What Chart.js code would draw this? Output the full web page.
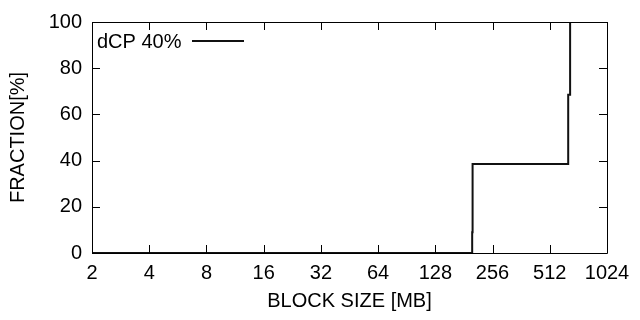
<!DOCTYPE html>
<html>
<head>
<meta charset="utf-8">
<script src="https://cdn.jsdelivr.net/npm/chart.js@4/dist/chart.umd.min.js"></script>
<style>
  html, body { margin: 0; padding: 0; background: #fff; }
  #wrap { width: 640px; height: 320px; }
</style>
</head>
<body>
<div id="wrap"><canvas id="cdfChart" width="640" height="320"></canvas></div>
<script>
// Data (CDF of block sizes)
const seriesLabel = 'dCP 40%';
const blockSizes = [2, 200, 201, 640, 655, 1024];
const fractions = [0, 9, 38.5, 68.5, 100, 100];

const xTicks = [2, 4, 8, 16, 32, 64, 128, 256, 512, 1024];
const yTicks = [0, 20, 40, 60, 80, 100];

const FONT = 'Liberation Sans, Arial, Helvetica, sans-serif';

// gnuplot-like frame with inward ticks on all four sides
const framePlugin = {
  id: 'frame',
  afterDatasetsDraw(chart) {
    const {ctx, chartArea: a, scales} = chart;
    const len = 8;
    ctx.save();
    ctx.strokeStyle = '#000';
    ctx.lineWidth = 1;
    ctx.beginPath();
    ctx.rect(a.left + 0.5, a.top + 0.5, a.right - a.left, a.bottom - a.top);
    xTicks.forEach(v => {
      const px = Math.round(scales.x.getPixelForValue(v)) + 0.5;
      ctx.moveTo(px, a.bottom); ctx.lineTo(px, a.bottom - len);
      ctx.moveTo(px, a.top); ctx.lineTo(px, a.top + len);
    });
    yTicks.forEach(v => {
      const py = Math.round(scales.y.getPixelForValue(v)) + 0.5;
      ctx.moveTo(a.left, py); ctx.lineTo(a.left + len, py);
      ctx.moveTo(a.right, py); ctx.lineTo(a.right - len, py);
    });
    ctx.stroke();
    ctx.restore();
  }
};

// key in the top-left corner: text, then line sample
const keyPlugin = {
  id: 'key',
  afterDraw(chart) {
    const {ctx, chartArea: a} = chart;
    const ds = chart.data.datasets[0];
    ctx.save();
    ctx.font = `20px ${FONT}`;
    ctx.fillStyle = '#000';
    ctx.textBaseline = 'middle';
    ctx.fillText(ds.label, a.left + 5, a.top + 20);
    ctx.strokeStyle = ds.borderColor;
    ctx.lineWidth = ds.borderWidth;
    ctx.beginPath();
    ctx.moveTo(a.left + 100, a.top + 19);
    ctx.lineTo(a.left + 152, a.top + 19);
    ctx.stroke();
    ctx.restore();
  }
};

new Chart(document.getElementById('cdfChart'), {
  type: 'line',
  data: {
    datasets: [{
      label: seriesLabel,
      data: blockSizes.map((x, i) => ({x, y: fractions[i]})),
      borderColor: '#111',
      borderWidth: 2,
      stepped: 'before',
      pointRadius: 0,
      fill: false,
    }],
  },
  options: {
    responsive: false,
    animation: false,
    layout: {padding: {top: 22, right: 33, bottom: 5, left: 6}},
    plugins: {legend: {display: false}, tooltip: {enabled: false}},
    scales: {
      x: {
        type: 'logarithmic',
        min: 2,
        max: 1024,
        grid: {display: false, drawTicks: false},
        border: {display: false},
        afterBuildTicks: (scale) => { scale.ticks = xTicks.map(v => ({value: v})); },
        afterFit: (scale) => { scale.height = 62; },
        ticks: {
          autoSkip: false,
          maxRotation: 0,
          padding: 8,
          color: '#000',
          font: {family: FONT, size: 20},
          callback: (v) => String(v),
        },
        title: {
          display: true,
          text: 'BLOCK SIZE [MB]',
          color: '#000',
          font: {family: FONT, size: 20},
          padding: {top: 0, bottom: 2},
        },
      },
      y: {
        min: 0,
        max: 100,
        grid: {display: false, drawTicks: false},
        border: {display: false},
        afterBuildTicks: (scale) => { scale.ticks = yTicks.map(v => ({value: v})); },
        afterFit: (scale) => { scale.width = 86; },
        ticks: {
          padding: 10,
          color: '#000',
          font: {family: FONT, size: 20},
        },
        title: {
          display: true,
          text: 'FRACTION[%]',
          color: '#000',
          font: {family: FONT, size: 20},
          padding: {top: 0, bottom: 0},
        },
      },
    },
  },
  plugins: [framePlugin, keyPlugin],
});
</script>
</body>
</html>
